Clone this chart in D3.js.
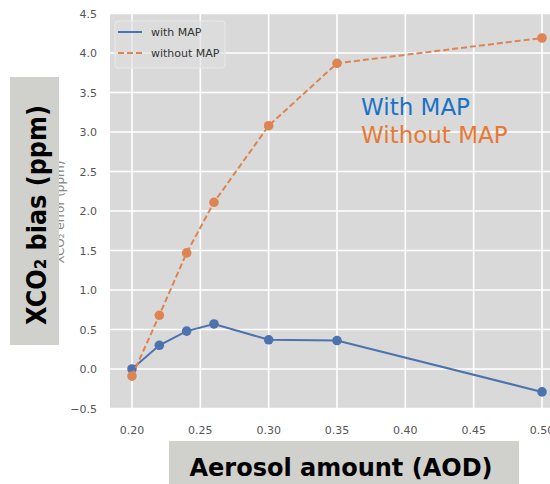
<!DOCTYPE html>
<html>
<head>
<meta charset="utf-8">
<script src="https://cdn.jsdelivr.net/npm/d3@7"></script>
<style>
  body { margin: 0; background: #fff; }
  svg { display: block; }
  .tick-label { font-family: "DejaVu Sans", sans-serif; font-size: 11px; fill: #555; }
</style>
</head>
<body>
<div id="chart"></div>
<script>
// values
var aod = [0.20, 0.22, 0.24, 0.26, 0.30, 0.35, 0.50];
var withMap = [0.00, 0.30, 0.48, 0.57, 0.37, 0.36, -0.29];
var withoutMap = [-0.09, 0.68, 1.47, 2.11, 3.08, 3.87, 4.19];
var xTicks = [0.20, 0.25, 0.30, 0.35, 0.40, 0.45, 0.50];
var yTicks = [-0.5, 0, 0.5, 1.0, 1.5, 2.0, 2.5, 3.0, 3.5, 4.0, 4.5];

var W = 550, H = 484;
var svg = d3.select("#chart").append("svg")
  .attr("width", W)
  .attr("height", H);

var x = d3.scaleLinear().domain([0.185, 0.515]).range([111.5, 562.5]);
var y = d3.scaleLinear().domain([-0.5, 4.5]).range([408.5, 13.5]);

var plot = {left: 110, top: 13.5, right: 562.5, bottom: 408.5};

// plot background
svg.append("rect")
  .attr("x", plot.left)
  .attr("y", plot.top)
  .attr("width", plot.right - plot.left)
  .attr("height", plot.bottom - plot.top)
  .attr("fill", "#d9d9d9");

// grid
svg.selectAll(".vgrid")
  .data(xTicks)
  .enter()
    .append("line")
      .attr("class", "vgrid")
      .attr("x1", function(d) { return x(d); })
      .attr("x2", function(d) { return x(d); })
      .attr("y1", plot.top)
      .attr("y2", plot.bottom)
      .attr("stroke", "#fff")
      .attr("stroke-width", 1.6);

svg.selectAll(".hgrid")
  .data(yTicks)
  .enter()
    .append("line")
      .attr("class", "hgrid")
      .attr("x1", plot.left)
      .attr("x2", plot.right)
      .attr("y1", function(d) { return y(d); })
      .attr("y2", function(d) { return y(d); })
      .attr("stroke", "#fff")
      .attr("stroke-width", 1.6);

// tick labels (the last x label runs off the right edge, as in the source)
svg.selectAll(".xlab")
  .data(xTicks)
  .enter()
    .append("text")
      .attr("class", "tick-label")
      .attr("x", function(d) { return x(d); })
      .attr("y", 434)
      .attr("text-anchor", "middle")
      .text(function(d) { return d3.format(".2f")(d); });

svg.selectAll(".ylab")
  .data(yTicks)
  .enter()
    .append("text")
      .attr("class", "tick-label")
      .attr("x", 97)
      .attr("y", function(d) { return y(d) + 4; })
      .attr("text-anchor", "end")
      .text(function(d) { return d3.format(".1f")(d).replace("-", "\u2212"); });

// original small y label, mostly hidden by the box
svg.append("text")
  .attr("transform", "translate(64,212) rotate(-90)")
  .attr("text-anchor", "middle")
  .attr("font-family", "DejaVu Sans, sans-serif")
  .attr("font-size", 12)
  .attr("fill", "#888")
  .text("XCO\u2082 error (ppm)");

// series
var line = d3.line()
  .x(function(d) { return x(d[0]); })
  .y(function(d) { return y(d[1]); });

var series = [
  {name: "with MAP", color: "#4c72b0", dash: null, values: d3.zip(aod, withMap)},
  {name: "without MAP", color: "#dd8452", dash: "6,3", values: d3.zip(aod, withoutMap)}
];

series.forEach(function(s) {
  svg.append("path")
    .datum(s.values)
    .attr("d", line)
    .attr("fill", "none")
    .attr("stroke", s.color)
    .attr("stroke-width", 2)
    .attr("stroke-dasharray", s.dash);

  svg.selectAll(null)
    .data(s.values)
    .enter()
      .append("circle")
        .attr("cx", function(d) { return x(d[0]); })
        .attr("cy", function(d) { return y(d[1]); })
        .attr("r", 4.8)
        .attr("fill", s.color);
});

// legend
var legend = svg.append("g");
legend.append("rect")
  .attr("x", 115)
  .attr("y", 21)
  .attr("width", 110)
  .attr("height", 47)
  .attr("rx", 3)
  .attr("fill", "#dedede")
  .attr("fill-opacity", 0.6)
  .attr("stroke", "#e9e9e9");

series.forEach(function(s, i) {
  var ly = 32 + i * 21;
  legend.append("line")
    .attr("x1", 118)
    .attr("x2", 142)
    .attr("y1", ly)
    .attr("y2", ly)
    .attr("stroke", s.color)
    .attr("stroke-width", 2)
    .attr("stroke-dasharray", s.dash);
  legend.append("text")
    .attr("x", 151)
    .attr("y", ly + 4)
    .attr("font-family", "DejaVu Sans, sans-serif")
    .attr("font-size", 11)
    .attr("fill", "#333")
    .text(s.name);
});

// big annotations
svg.append("text")
  .attr("x", 361)
  .attr("y", 115)
  .attr("font-family", "DejaVu Sans, sans-serif")
  .attr("font-size", 23)
  .attr("fill", "#1a72c7")
  .text("With MAP");

svg.append("text")
  .attr("x", 361)
  .attr("y", 143)
  .attr("font-family", "DejaVu Sans, sans-serif")
  .attr("font-size", 23)
  .attr("fill", "#e67a35")
  .text("Without MAP");

// axis title boxes
svg.append("rect")
  .attr("x", 10)
  .attr("y", 77)
  .attr("width", 49)
  .attr("height", 268)
  .attr("fill", "#d0d0cc");

svg.append("text")
  .attr("transform", "translate(46,215) rotate(-90)")
  .attr("text-anchor", "middle")
  .attr("font-family", "DejaVu Sans, sans-serif")
  .attr("font-weight", "bold")
  .attr("font-size", 27)
  .attr("fill", "#000")
  .attr("textLength", 220)
  .attr("lengthAdjust", "spacingAndGlyphs")
  .text("XCO\u2082 bias (ppm)");

svg.append("rect")
  .attr("x", 169)
  .attr("y", 441)
  .attr("width", 350)
  .attr("height", 43)
  .attr("fill", "#d0d0cc");

svg.append("text")
  .attr("x", 341)
  .attr("y", 476)
  .attr("text-anchor", "middle")
  .attr("font-family", "DejaVu Sans, sans-serif")
  .attr("font-weight", "bold")
  .attr("font-size", 24)
  .attr("fill", "#000")
  .text("Aerosol amount (AOD)");
</script>
</body>
</html>
